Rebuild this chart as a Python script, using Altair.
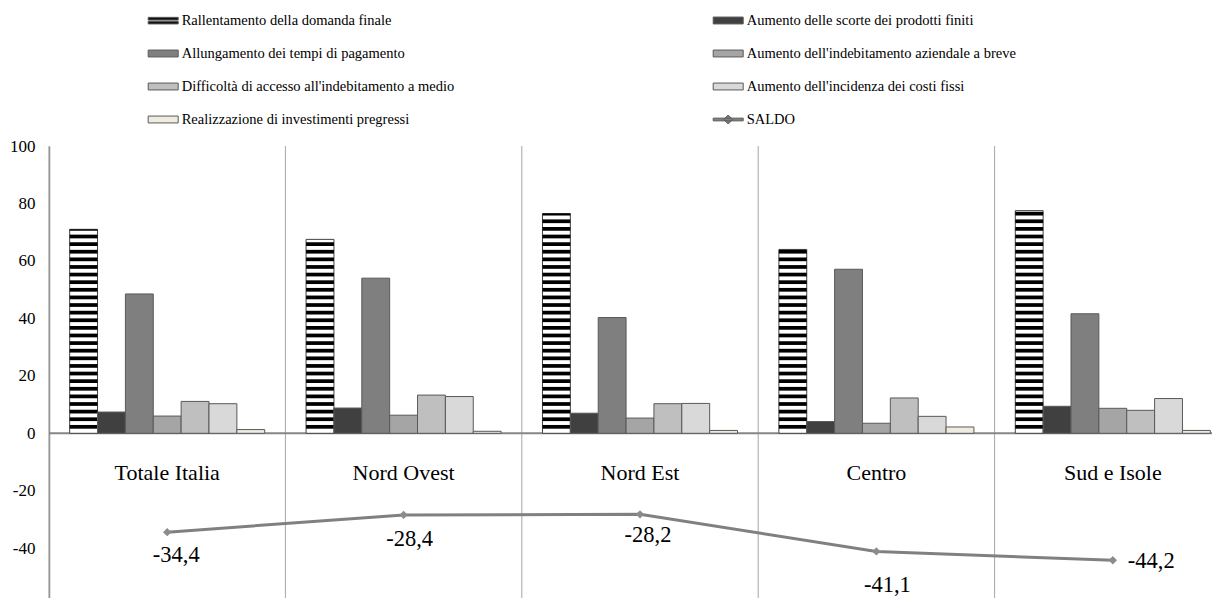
import altair as alt
import pandas as pd
import numpy as np

# ---------------- data ----------------
regions = ["Totale Italia", "Nord Ovest", "Nord Est", "Centro", "Sud e Isole"]
series = [
    "Rallentamento della domanda finale",
    "Aumento delle scorte dei prodotti finiti",
    "Allungamento dei tempi di pagamento",
    "Aumento dell'indebitamento aziendale a breve",
    "Difficoltà di accesso all'indebitamento  a medio",
    "Aumento dell'incidenza dei costi fissi",
    "Realizzazione di investimenti pregressi",
]
saldo_name = "SALDO"
rallentamento = [71.0, 67.5, 76.5, 64.0, 77.5]
scorte = [7.4, 8.8, 7.0, 4.1, 9.4]
allungamento = [48.5, 54.0, 40.3, 57.1, 41.6]
breve = [6.0, 6.3, 5.3, 3.5, 8.7]
difficolta = [11.1, 13.3, 10.3, 12.3, 8.0]
incidenza = [10.3, 12.8, 10.4, 5.9, 12.1]
realizzazione = [1.3, 0.7, 1.0, 2.2, 1.0]
saldo = [-34.4, -28.4, -28.2, -41.1, -44.2]
y_ticks = [-60, -40, -20, 0, 20, 40, 60, 80, 100]

# ---------------- style ----------------
FONT = "Liberation Serif"
bar_colors = ["#ffffff", "#404040", "#7f7f7f", "#a5a5a5", "#bfbfbf", "#d9d9d9", "#eeece1"]
RECT = "M-1,-0.23H1V0.23H-1Z"
STRIPED = "M-1,-0.21H1V-0.03H-1Z M-1,0.05H1V0.23H-1Z"
SALDO_SYM = "M-1,-0.09H1V0.09H-1Z M0,-0.3L0.3,0L0,0.3L-0.3,0Z"
all_names = series + [saldo_name]
all_colors = ["#111111", "#404040", "#7f7f7f", "#a5a5a5", "#bfbfbf", "#d9d9d9", "#eeece1", "#808080"]
all_shapes = [STRIPED] + [RECT] * 6 + [SALDO_SYM]
# legend is filled column by column: reorder so it reads row by row as in the original
legend_order = [0, 2, 4, 6, 1, 3, 5, 7]
legend_names = [all_names[i] for i in legend_order]
legend_colors = [all_colors[i] for i in legend_order]
legend_shapes = [all_shapes[i] for i in legend_order]

W = 1163
H = 452
PX_PER_UNIT = 2.873
Y_RANGE = [160 * PX_PER_UNIT, 0]
ZERO_Y = 100 * PX_PER_UNIT

# ---------------- tables ----------------
other_vals = [scorte, allungamento, breve, difficolta, incidenza, realizzazione]
bars_df = pd.DataFrame(
    [
        {"region": r, "series": s, "value": vals[i]}
        for s, vals in zip(series[1:], other_vals)
        for i, r in enumerate(regions)
    ]
)
rall_df = pd.DataFrame({"region": regions, "series": series[0], "value": rallentamento})

# horizontal stripe pattern of the first series (decoration inside each bar)
STRIPE_START, STRIPE_PERIOD, STRIPE_THICK = 1.6, 2.65, 1.3
stripe_rows = []
for r, v in zip(regions, rallentamento):
    lo = STRIPE_START
    while lo < v - 0.35:
        stripe_rows.append({"region": r, "series": series[0], "lo": lo, "hi": min(lo + STRIPE_THICK, v)})
        lo += STRIPE_PERIOD
stripes_df = pd.DataFrame(stripe_rows)

saldo_df = pd.DataFrame(
    {
        "region": regions,
        "value": saldo,
        "label": [f"{v:.1f}".replace(".", ",") for v in saldo],
    }
)
region_df = pd.DataFrame({"region": regions})
legend_df = pd.DataFrame({"series": legend_names, "region": regions[0]})

# ---------------- scales / axes ----------------
xscale = alt.Scale(domain=regions, range=[0, 1182], paddingInner=0, paddingOuter=0)
xoff_scale = alt.Scale(domain=series, paddingInner=0, paddingOuter=0.742)
yscale = alt.Scale(domain=[-60, 100], range=Y_RANGE, nice=False, zero=False)

xaxis = alt.Axis(
    orient="bottom",
    offset=-(H - ZERO_Y),
    domain=False,
    ticks=False,
    tickSize=0,
    grid=False,
    labelAngle=0,
    labelFont=FONT,
    labelFontSize=22,
    labelPadding=29,
    labelColor="black",
    title=None,
)
yaxis = alt.Axis(
    values=y_ticks,
    grid=False,
    ticks=False,
    tickSize=0,
    domainColor="#868686",
    domainWidth=1.5,
    labelFont=FONT,
    labelFontSize=17,
    labelPadding=14,
    labelColor="black",
    labelFlush=False,
    labelOverlap=False,
    labelExpr="'' + datum.value",
    title=None,
)


def xenc(**kw):
    return alt.X("region:N", scale=xscale, sort=regions, axis=xaxis, title=None, **kw)


def yenc(field):
    return alt.Y(field, scale=yscale, axis=yaxis, title=None)


xoff = alt.XOffset("series:N", scale=xoff_scale, sort=series)

# ---------------- layers ----------------
dividers = alt.Chart(region_df).mark_rule(color="#a6a6a6", strokeWidth=1).encode(
    x=xenc(bandPosition=0), y=alt.datum(100, scale=yscale, axis=yaxis), y2=alt.datum(-60)
)

zero_line = alt.Chart(pd.DataFrame({"v": [0]})).mark_rule(color="#868686", strokeWidth=2).encode(
    y=yenc("v:Q")
)

rall_bars = alt.Chart(rall_df).mark_bar(fill="white", stroke="#404040", strokeWidth=1).encode(
    x=xenc(), xOffset=xoff, y=yenc("value:Q")
)

stripes = alt.Chart(stripes_df).mark_bar(color="black", strokeWidth=0).encode(
    x=xenc(), xOffset=xoff, y=yenc("lo:Q"), y2="hi:Q"
)

other_bars = alt.Chart(bars_df).mark_bar(stroke="#595959", strokeWidth=1).encode(
    x=xenc(),
    xOffset=xoff,
    y=yenc("value:Q"),
    fill=alt.Fill("series:N", scale=alt.Scale(domain=series, range=bar_colors), legend=None),
)

saldo_line = alt.Chart(saldo_df).mark_line(color="#808080", strokeWidth=3).encode(
    x=xenc(), y=yenc("value:Q")
)
saldo_pts = alt.Chart(saldo_df).mark_point(
    shape="diamond", filled=True, size=70, color="#8c8c8c", opacity=1
).encode(x=xenc(), y=yenc("value:Q"))

label_style = {
    "Totale Italia": dict(dx=9, dy=23, align="center"),
    "Nord Ovest": dict(dx=6, dy=24, align="center"),
    "Nord Est": dict(dx=8, dy=21, align="center"),
    "Centro": dict(dx=11, dy=34, align="center"),
    "Sud e Isole": dict(dx=15, dy=1, align="left"),
}
label_layers = []
for r in regions:
    st = label_style[r]
    label_layers.append(
        alt.Chart(saldo_df)
        .transform_filter(alt.datum.region == r)
        .mark_text(font=FONT, fontSize=22.5, color="black", baseline="middle", **st)
        .encode(x=xenc(), y=yenc("value:Q"), text="label:N")
    )

leg = alt.Legend(
    orient="none",
    legendX=98.7,
    legendY=-141,
    columns=2,
    columnPadding=252,
    rowPadding=11,
    padding=0,
    symbolSize=900,
    symbolStrokeColor="#595959",
    symbolStrokeWidth=1,
    labelFont=FONT,
    labelFontSize=14.5,
    labelColor="black",
    labelOffset=3,
    labelLimit=600,
    title=None,
)
legend_layer = alt.Chart(legend_df).mark_point(filled=True, clip=True, opacity=1).encode(
    x=xenc(),
    y=alt.datum(150, scale=yscale, axis=yaxis),
    color=alt.Color("series:N", scale=alt.Scale(domain=legend_names, range=legend_colors), legend=leg),
    shape=alt.Shape("series:N", scale=alt.Scale(domain=legend_names, range=legend_shapes), legend=leg),
)

chart = (
    alt.layer(
        dividers,
        zero_line,
        rall_bars,
        stripes,
        other_bars,
        saldo_line,
        saldo_pts,
        *label_layers,
        legend_layer,
    )
    .properties(
        width=W,
        height=H,
        autosize=alt.AutoSizeParams(type="none"),
        padding={"left": 41, "top": 138, "right": 0, "bottom": 0},
        background="white",
    )
    .configure(font=FONT)
    .configure_axis(labelFont=FONT)
    .configure_text(font=FONT)
    .configure_legend(labelFont=FONT)
    .configure_view(stroke=None)
)

chart.save("out.html", embed_options={"renderer": "svg", "actions": False})
